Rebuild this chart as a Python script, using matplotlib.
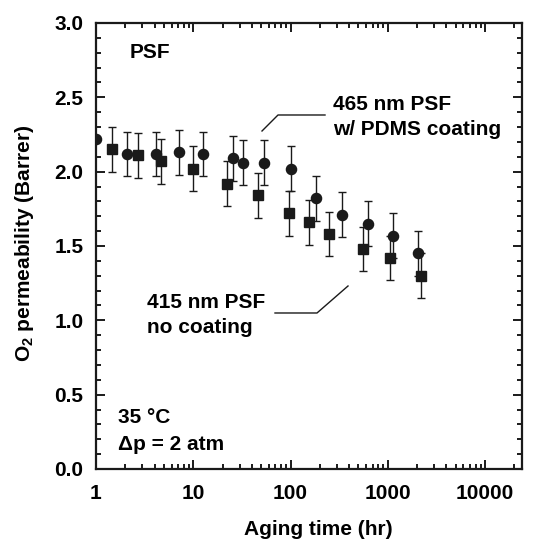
import matplotlib
matplotlib.use("Agg")
import matplotlib.pyplot as plt
from matplotlib.ticker import LogLocator, MultipleLocator, NullFormatter, FixedLocator, FixedFormatter

# 465 nm PSF with PDMS coating (circles)
coated_time = [1.0, 2.07, 4.14, 7.18, 12.5, 25.8, 32.2, 53.7, 101, 181, 335, 629, 1137, 2055]
coated_perm = [2.22, 2.12, 2.12, 2.13, 2.12, 2.09, 2.06, 2.06, 2.02, 1.82, 1.71, 1.65, 1.57, 1.45]
coated_err = [0.0, 0.15, 0.15, 0.15, 0.15, 0.15, 0.15, 0.15, 0.15, 0.15, 0.15, 0.15, 0.15, 0.15]

# 415 nm PSF without coating (squares)
bare_time = [1.47, 2.68, 4.62, 9.86, 22.0, 45.9, 96.3, 155, 250, 551, 1043, 2173]
bare_perm = [2.15, 2.11, 2.07, 2.02, 1.92, 1.84, 1.72, 1.66, 1.58, 1.48, 1.42, 1.30]
bare_err = [0.15] * 12

xticks = [1, 10, 100, 1000, 10000]
xtick_labels = ["1", "10", "100", "1000", "10000"]

plt.rcParams["font.family"] = "Liberation Sans"
plt.rcParams["font.weight"] = "bold"
plt.rcParams["mathtext.fontset"] = "custom"
plt.rcParams["mathtext.rm"] = "Liberation Sans:bold"
plt.rcParams["mathtext.it"] = "Liberation Sans:bold"
plt.rcParams["mathtext.bf"] = "Liberation Sans:bold"

fs = 15
col = "#1a1a1a"

fig = plt.figure(figsize=(5.33, 5.41), dpi=100)
ax = fig.add_axes([0.1801, 0.1331, 0.7993, 0.8244])

ax.errorbar(coated_time, coated_perm, yerr=coated_err, fmt="o", color=col,
            markersize=7.3, elinewidth=1, capsize=2.8, capthick=1)
ax.errorbar(bare_time, bare_perm, yerr=bare_err, fmt="s", color=col,
            markersize=7.3, elinewidth=1, capsize=2.8, capthick=1)

ax.set_xscale("log")
ax.set_xlim(1, 24000)
ax.set_ylim(0, 3.0)

ax.xaxis.set_major_locator(FixedLocator(xticks))
ax.xaxis.set_major_formatter(FixedFormatter(xtick_labels))
ax.xaxis.set_minor_locator(LogLocator(base=10, subs=range(2, 10)))
ax.xaxis.set_minor_formatter(NullFormatter())
ax.yaxis.set_major_locator(MultipleLocator(0.5))
ax.yaxis.set_minor_locator(MultipleLocator(0.1))
ax.yaxis.set_major_formatter(plt.FormatStrFormatter("%.1f"))

ax.tick_params(which="both", direction="in", top=True, right=True, color=col, width=1.4)
ax.tick_params(which="major", length=6.5)
ax.tick_params(which="minor", length=3.3)
ax.tick_params(axis="x", which="major", pad=11, labelsize=fs)
ax.tick_params(axis="y", which="major", pad=9, labelsize=fs)
for s in ax.spines.values():
    s.set_linewidth(1.6)
    s.set_color(col)

ax.set_xlabel("Aging time (hr)", fontsize=fs, fontweight="bold")
ax.xaxis.set_label_coords(0.521, -0.115)
ax.set_ylabel(r"O$_2$ permeability (Barrer)", fontsize=fs, fontweight="bold")
ax.yaxis.set_label_coords(-0.14, 0.507)

# annotations (axes fraction coordinates)
def ax_pt(px, py):
    return ((px - 96) / 426.0, (469 - py) / 446.0)

ax.text(*ax_pt(130, 53), "PSF", transform=ax.transAxes, fontsize=fs, va="center", ha="left")
ax.text(*ax_pt(333, 105), "465 nm PSF", transform=ax.transAxes, fontsize=fs, va="center", ha="left")
ax.text(*ax_pt(333, 130), "w/ PDMS coating", transform=ax.transAxes, fontsize=fs, va="center", ha="left")
ax.text(*ax_pt(147, 303), "415 nm PSF", transform=ax.transAxes, fontsize=fs, va="center", ha="left")
ax.text(*ax_pt(147, 328), "no coating", transform=ax.transAxes, fontsize=fs, va="center", ha="left")
ax.text(*ax_pt(118, 418), "35 °C", transform=ax.transAxes, fontsize=fs, va="center", ha="left")
ax.text(*ax_pt(118, 445), "\u0394p = 2 atm", transform=ax.transAxes, fontsize=fs, va="center", ha="left")

# leader lines
p1 = [ax_pt(325, 115), ax_pt(278, 115), ax_pt(262, 131)]
ax.plot([p[0] for p in p1], [p[1] for p in p1], color=col, lw=1, transform=ax.transAxes)
p2 = [ax_pt(275, 313), ax_pt(317, 313), ax_pt(348, 286)]
ax.plot([p[0] for p in p2], [p[1] for p in p2], color=col, lw=1, transform=ax.transAxes)

fig.savefig("out.png", dpi=100)
